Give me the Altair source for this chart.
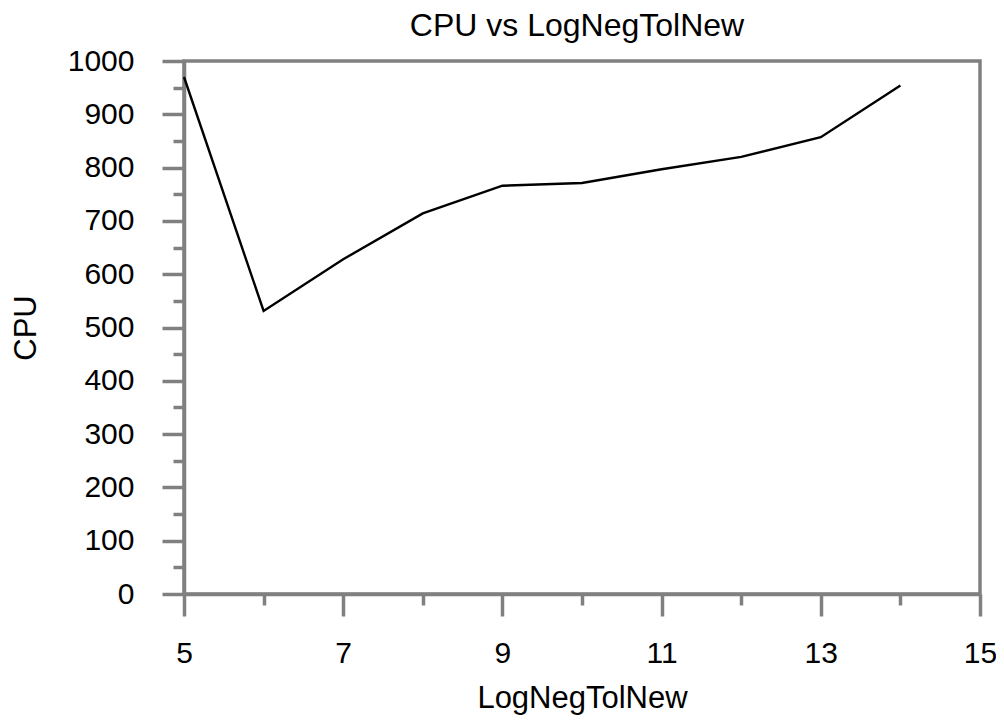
import altair as alt
import pandas as pd

# Data
log_neg_tol_new = [5, 6, 7, 8, 9, 10, 11, 12, 13, 14]
cpu = [970, 531, 628, 714, 766, 771, 797, 820, 857, 954]

x_ticks = [5, 6, 7, 8, 9, 10, 11, 12, 13, 14, 15]
y_ticks = list(range(0, 1001, 50))

df = pd.DataFrame({"LogNegTolNew": log_neg_tol_new, "CPU": cpu})

FONT = "Liberation Sans"
GREY = "#808080"

x_axis = alt.Axis(
    values=x_ticks,
    format="d",
    labelExpr="datum.value % 2 == 1 ? datum.label : ''",
    tickSize={"condition": {"test": "datum.value % 2 == 1", "value": 22}, "value": 11},
    labelPadding=22,
    labelFontSize=30,
    titleFontSize=31,
    titlePadding=15,
    grid=False,
)
y_axis = alt.Axis(
    values=y_ticks,
    format="d",
    labelExpr="datum.value % 100 == 0 ? datum.label : ''",
    tickSize={"condition": {"test": "datum.value % 100 == 0", "value": 22}, "value": 11},
    labelPadding=28,
    labelFontSize=30,
    titleFontSize=31,
    titlePadding=25,
    grid=False,
)

chart = (
    alt.Chart(df)
    .mark_line(color="black", strokeWidth=2.4)
    .encode(
        x=alt.X("LogNegTolNew:Q", scale=alt.Scale(domain=[5, 15], nice=False, zero=False), axis=x_axis, title="LogNegTolNew"),
        y=alt.Y("CPU:Q", scale=alt.Scale(domain=[0, 1000], nice=False), axis=y_axis, title="CPU"),
    )
    .properties(
        width=796,
        height=533,
        title=alt.TitleParams("CPU vs LogNegTolNew", fontSize=32, font=FONT, fontWeight="normal", anchor="middle", offset=3, dx=-5),
        autosize=alt.AutoSizeParams(type="none"),
        padding={"left": 176, "top": 53, "right": 16, "bottom": 121},
    )
    .configure_axis(
        labelFont=FONT,
        titleFont=FONT,
        titleFontWeight="normal",
        labelColor="black",
        titleColor="black",
        domainColor=GREY,
        domainWidth=3.5,
        tickColor=GREY,
        tickWidth=3.5,
        labelFlush=False,
        labelOverlap=False,
    )
    .configure_view(stroke=GREY, strokeWidth=3.5)
)

chart.save("out.html", embed_options={"renderer": "svg", "actions": False})
